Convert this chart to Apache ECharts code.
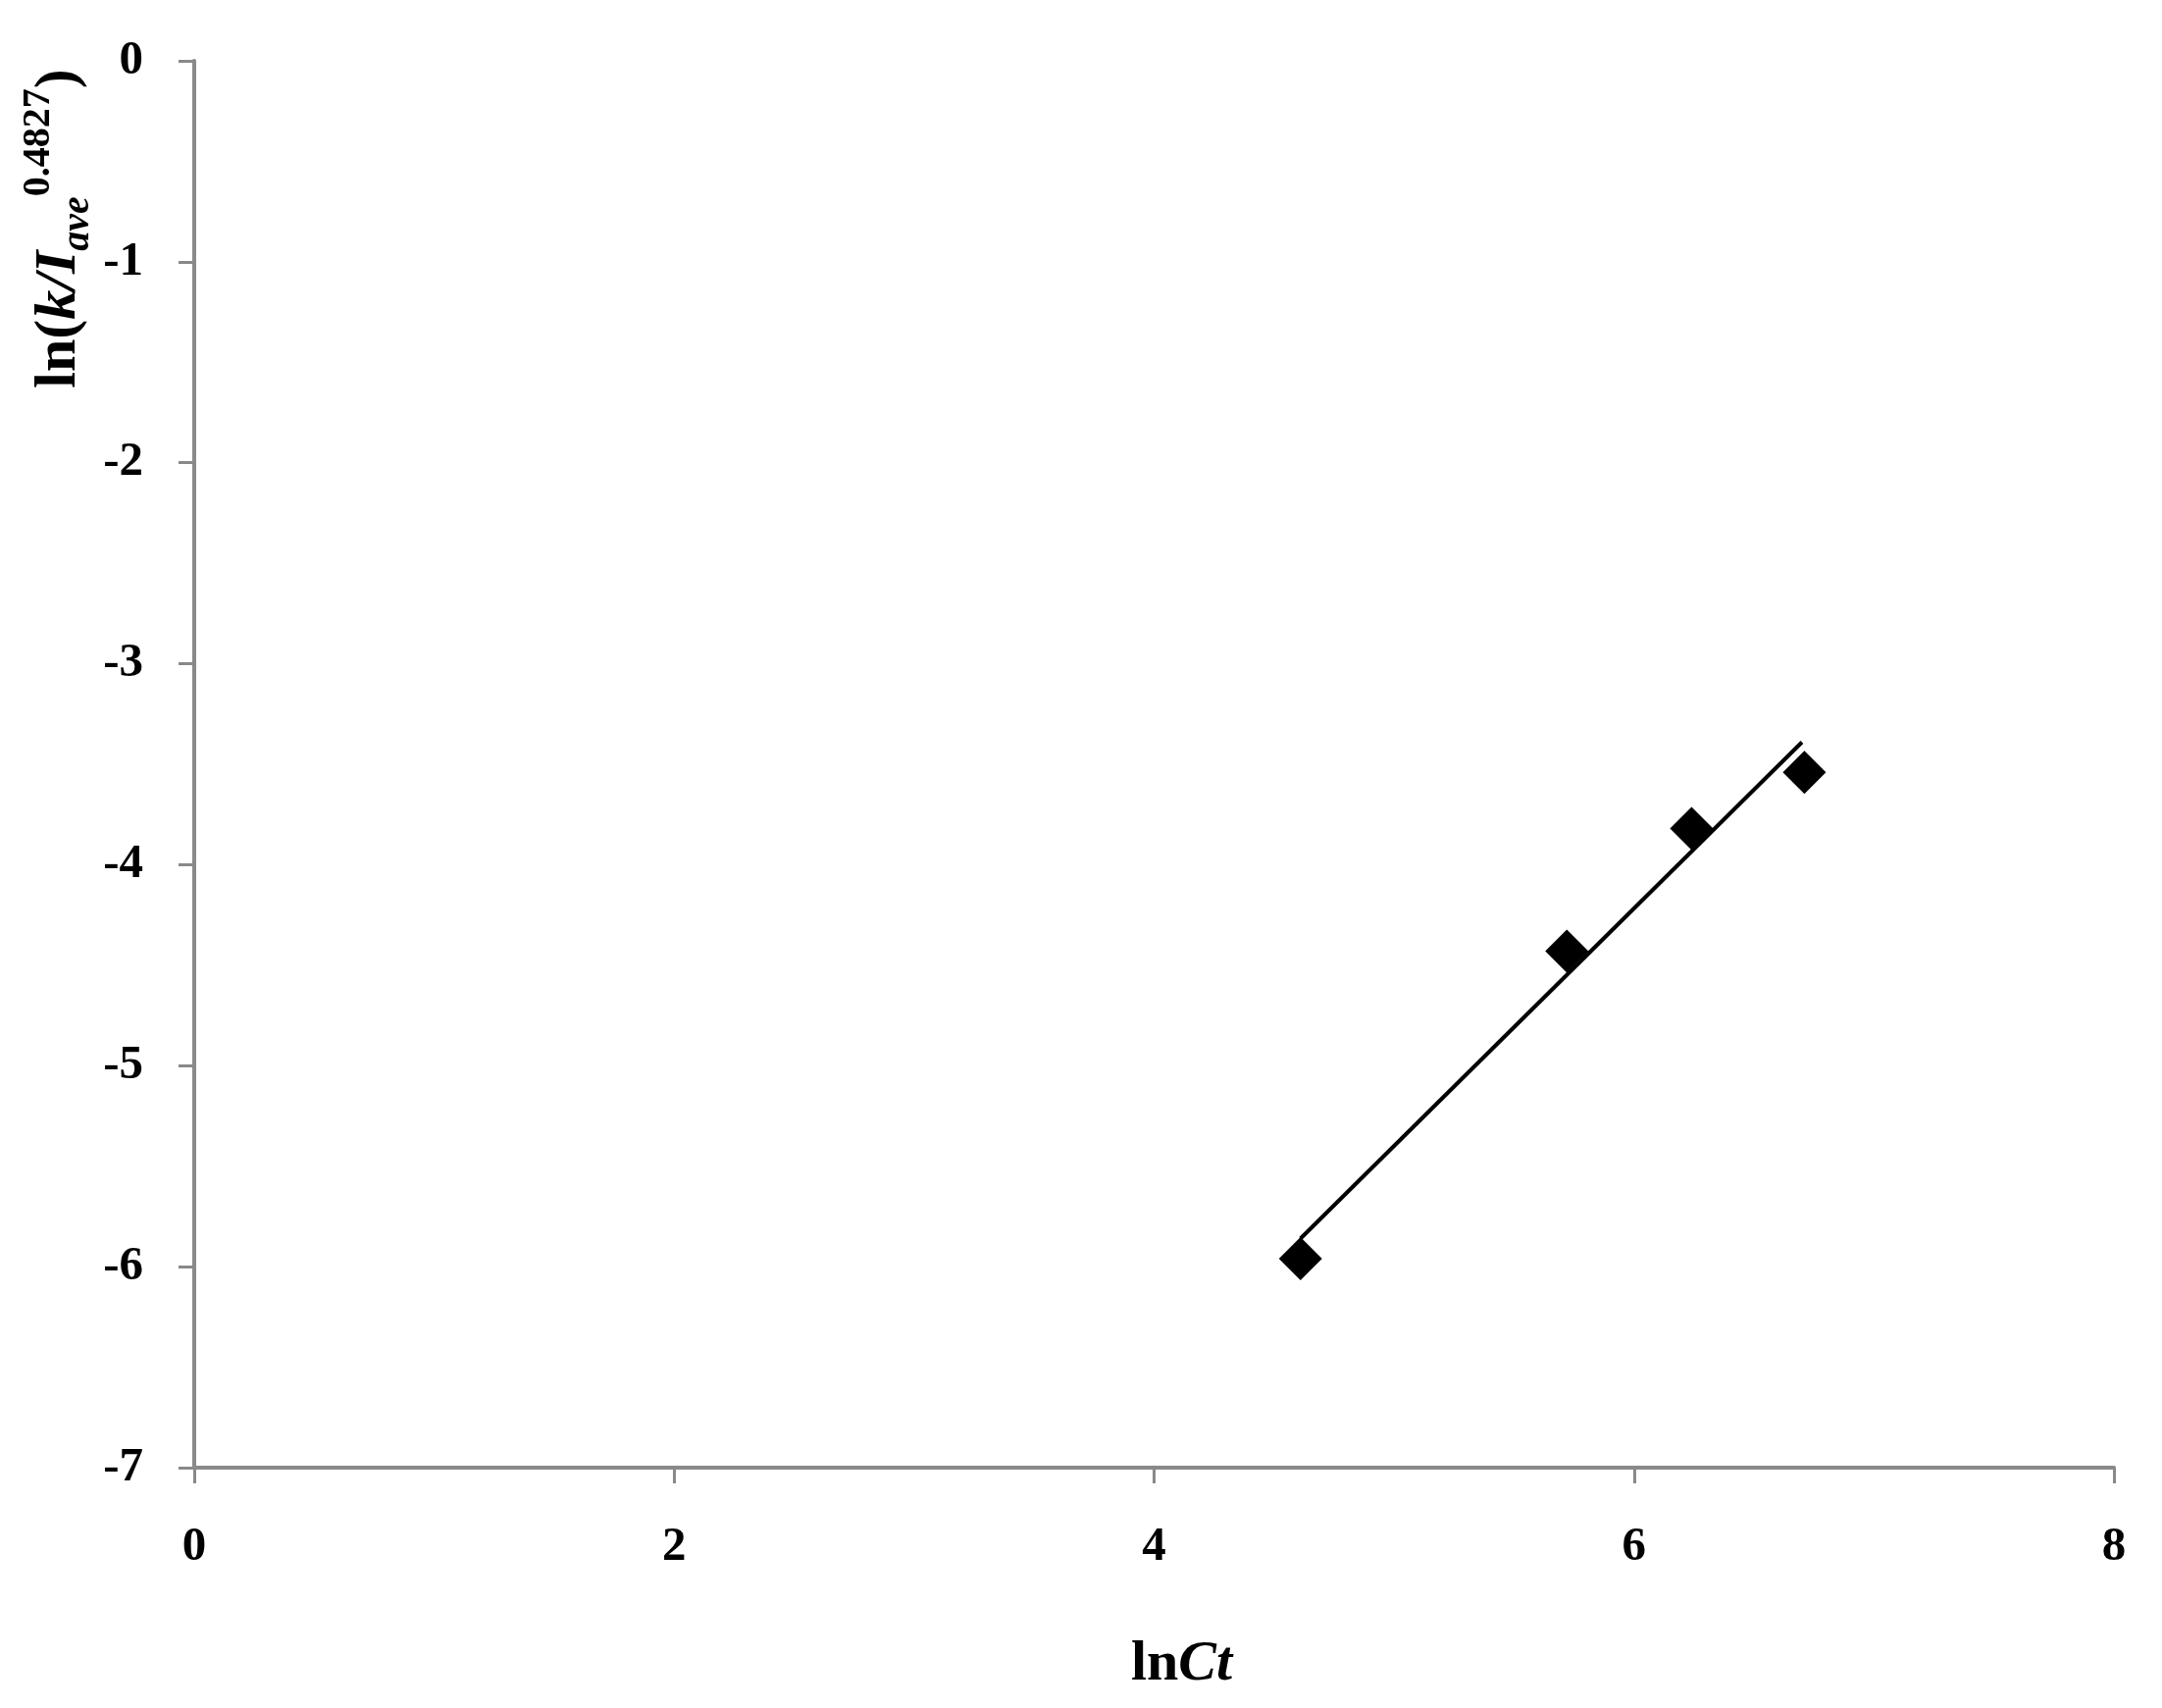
<!DOCTYPE html>
<html>
<head>
<meta charset="utf-8">
<script src="https://cdn.jsdelivr.net/npm/echarts@6/dist/echarts.min.js"></script>
<style>
  html, body { margin: 0; background: #fff; }
  #main { width: 2204px; height: 1741px; }
</style>
</head>
<body>
<div id="main"></div>
<script>
// measured points
var lnCt = [4.61, 5.72, 6.24, 6.71];
var lnK = [-5.96, -4.43, -3.82, -3.54];
// linear trendline, ends as drawn in the figure
var trendX = [4.61, 6.70];
var trendY = [-5.86, -3.39];
// axis ticks
var xTicks = [0, 2, 4, 6, 8];
var yTicks = [-7, -6, -5, -4, -3, -2, -1, 0];

var serif = '"Liberation Serif", "Times New Roman", serif';
var axisGray = '#898989';

var points = lnCt.map(function (x, i) { return [x, lnK[i]]; });
var trend = trendX.map(function (x, i) { return [x, trendY[i]]; });

var chartDom = document.getElementById('main');
var myChart = echarts.init(chartDom);

var options = {
  backgroundColor: '#fff',
  animation: false,
  grid: { left: 198, right: 49, top: 62, bottom: 245 },
  xAxis: {
    type: 'value',
    min: xTicks[0],
    max: xTicks[xTicks.length - 1],
    interval: xTicks[1] - xTicks[0],
    splitLine: { show: false },
    axisLine: { onZero: false, lineStyle: { color: axisGray, width: 4 } },
    axisTick: { length: 16, lineStyle: { color: axisGray, width: 3 } },
    axisLabel: {
      margin: 57,
      color: '#000',
      fontFamily: serif,
      fontWeight: 'bold',
      fontSize: 49
    },
    name: '{a|ln}{b|Ct}',
    nameLocation: 'middle',
    nameGap: 172,
    nameTextStyle: {
      padding: [0, 0, 0, 56],
      rich: {
        a: { fontFamily: serif, fontWeight: 'bold', fontSize: 58, color: '#000' },
        b: { fontFamily: serif, fontWeight: 'bold', fontStyle: 'italic', fontSize: 58, color: '#000' }
      }
    }
  },
  yAxis: {
    type: 'value',
    min: yTicks[0],
    max: yTicks[yTicks.length - 1],
    interval: yTicks[1] - yTicks[0],
    splitLine: { show: false },
    axisLine: { onZero: false, lineStyle: { color: axisGray, width: 4 } },
    axisTick: { length: 16, lineStyle: { color: axisGray, width: 3 } },
    axisLabel: {
      margin: 52,
      color: '#000',
      fontFamily: serif,
      fontWeight: 'bold',
      fontSize: 49
    }
  },
  graphic: [{
    type: 'text',
    x: 60,
    y: 233,
    rotation: Math.PI / 2,
    style: {
      text: '{a|ln(}{b|k/I}{c|ave}{d|0.4827}{a|)}',
      align: 'center',
      verticalAlign: 'middle',
      rich: {
        a: { fontFamily: serif, fontWeight: 'bold', fontSize: 60, lineHeight: 80, fill: '#000' },
        b: { fontFamily: serif, fontWeight: 'bold', fontStyle: 'italic', fontSize: 60, lineHeight: 80, fill: '#000' },
        c: { fontFamily: serif, fontWeight: 'bold', fontStyle: 'italic', fontSize: 40, lineHeight: 24, verticalAlign: 'bottom', fill: '#000' },
        d: { fontFamily: serif, fontWeight: 'bold', fontSize: 40, lineHeight: 36, verticalAlign: 'top', fill: '#000' }
      }
    }
  }],
  series: [
    {
      name: 'trend',
      type: 'line',
      data: trend,
      symbol: 'none',
      lineStyle: { color: '#000', width: 4 },
      z: 3
    },
    {
      name: 'data',
      type: 'scatter',
      data: points,
      symbol: 'diamond',
      symbolSize: 44,
      itemStyle: { color: '#000', opacity: 1 },
      z: 4
    }
  ]
};

options && myChart.setOption(options);
</script>
</body>
</html>
